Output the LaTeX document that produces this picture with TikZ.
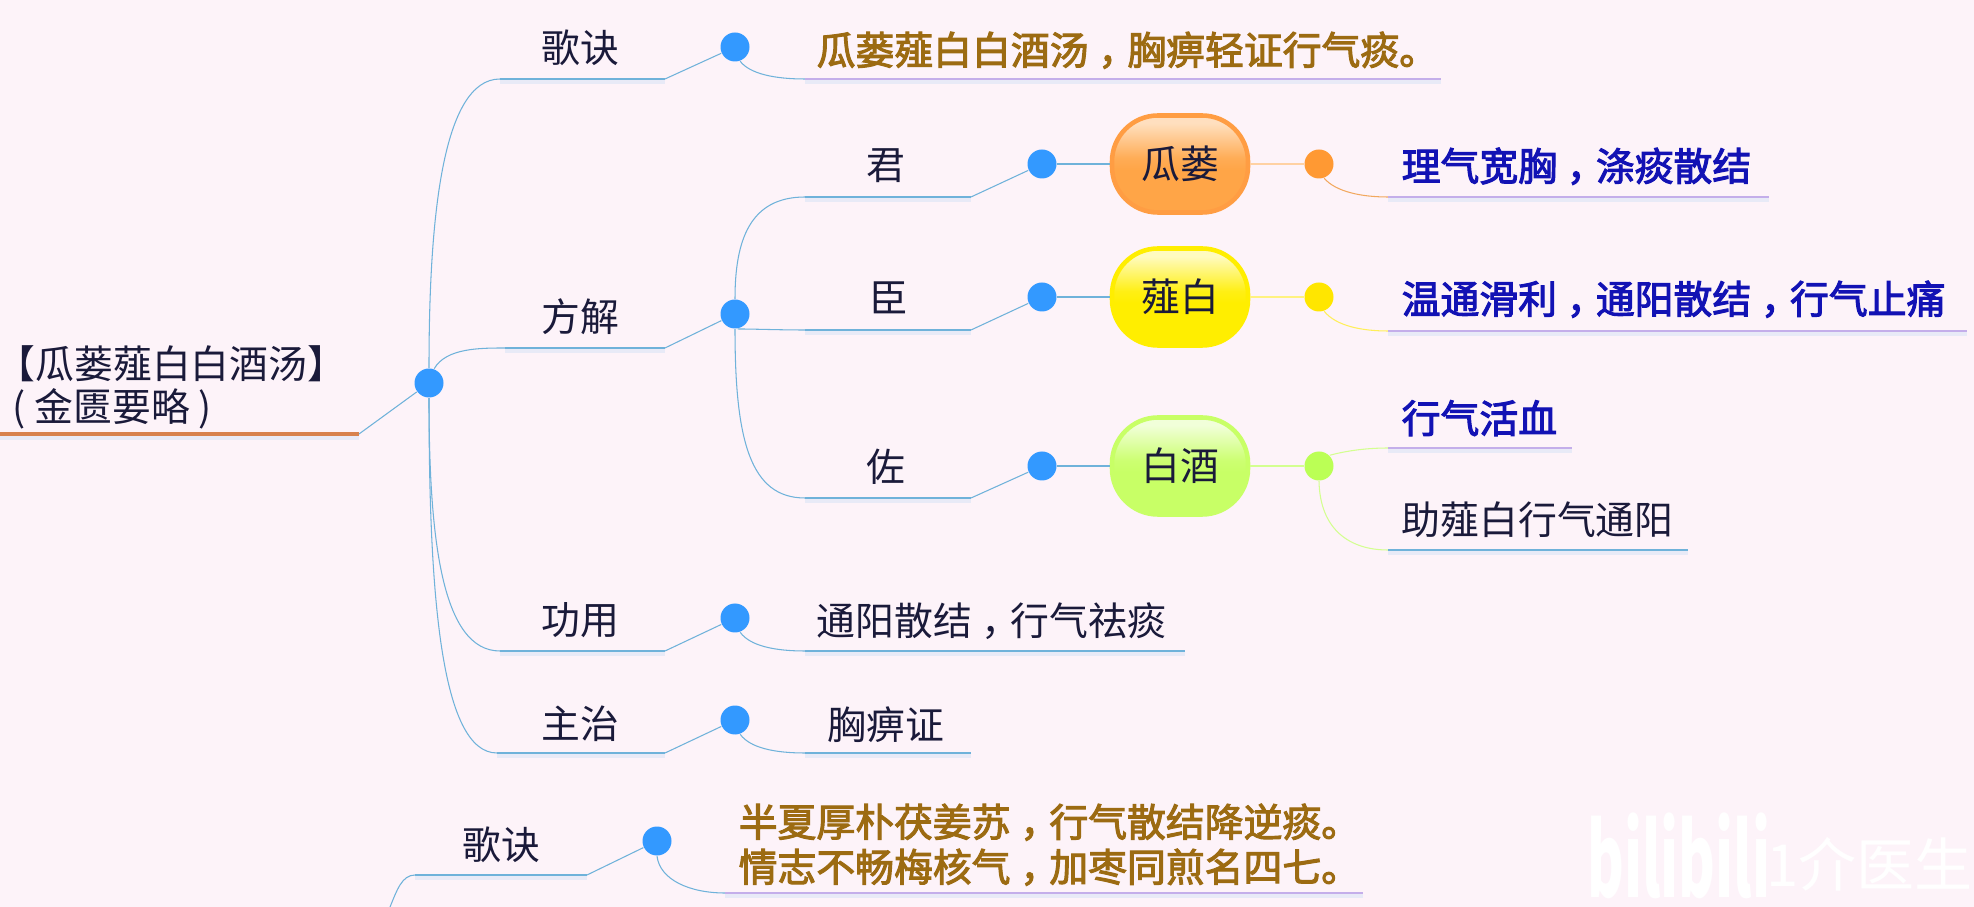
\documentclass[tikz,border=0pt]{standalone}
\usepackage{fontspec}
\setmainfont{Noto Sans CJK SC}
\newfontfamily\cjkbold[FakeBold=2.6]{Noto Sans CJK SC}
\usetikzlibrary{positioning}
\definecolor{bgpink}{HTML}{FDF3F9}
\definecolor{inkdark}{HTML}{1A1A3A}
\definecolor{inkbrown}{HTML}{9C6B12}
\definecolor{inkblue}{HTML}{1212B4}
\definecolor{dotblue}{HTML}{3399FF}
\definecolor{dotorange}{HTML}{FF9933}
\definecolor{dotyellow}{HTML}{FFE600}
\definecolor{dotlime}{HTML}{BBFF55}
\definecolor{fillorange}{HTML}{FFA547}
\definecolor{fillyellow}{HTML}{FFEE00}
\definecolor{filllime}{HTML}{C8FF66}
\definecolor{linkblue}{HTML}{6FB2DA}
\definecolor{linkpurple}{HTML}{C4AEEA}
\definecolor{linktitle}{HTML}{D8824E}
\definecolor{bandgrey}{HTML}{E8EAF7}
\pgfdeclareverticalshading{boxorange}{100bp}{color(0bp)=(fillorange); color(47bp)=(fillorange); color(53bp)=(fillorange!92!white); color(71bp)=(fillorange!35!white); color(100bp)=(fillorange!35!white)}
\pgfdeclareverticalshading{boxyellow}{100bp}{color(0bp)=(fillyellow); color(47bp)=(fillyellow); color(53bp)=(fillyellow!92!white); color(71bp)=(fillyellow!25!white); color(100bp)=(fillyellow!25!white)}
\pgfdeclareverticalshading{boxlime}{100bp}{color(0bp)=(filllime); color(47bp)=(filllime); color(53bp)=(filllime!92!white); color(71bp)=(filllime!25!white); color(100bp)=(filllime!25!white)}
\newcommand{\dou}{\hspace{.25em}，\hspace{-.25em}}
\tikzset{
  txt/.style={font=\fontsize{11.05}{11.05}\selectfont, text=inkdark, inner sep=0pt, yshift=-0.35pt},
  txtbold/.style={font=\fontsize{11.05}{11.05}\selectfont\cjkbold, inner sep=0pt, yshift=-0.35pt},
  dot/.style={circle, fill=#1, inner sep=0pt, minimum size=0.29cm},
  herb/.style={txt, yshift=0.35pt, rounded corners=0.46cm, minimum width=1.36cm, minimum height=0.97cm, line width=1.3pt},
  link/.style={line width=0.3pt, draw=#1},
  stem/.style={link=#1, preaction={draw=bandgrey, line width=1pt, transform canvas={yshift=-0.9pt}}},
}
\begin{document}
\begin{tikzpicture}[x=1cm, y=-1cm]
\useasboundingbox (0,0) rectangle (19.74,9.07);
\fill[bgpink] (0,0) rectangle (19.74,9.07);

% Marca de agua
\node[font=\fontsize{29}{29}\selectfont\bfseries, text=white, inner sep=0pt, anchor=base west, xscale=0.55] (markLogo) at (15.87,8.97) {bilibili};
\node[font=\fontsize{16.5}{17}\selectfont, text=white, inner sep=0pt, anchor=base east] (markName) at (19.73,8.86) {1介医生};

% Raiz
\node[txt, align=left, anchor=west] (title) at (-0.04,3.86) {【瓜蒌薤白白酒汤】\\[1.2pt]\hspace*{0.16cm}( 金匮要略 )};
\node[dot=dotblue] (root) at (4.29,3.83) {};
\coordinate (titleL) at (0,4.34);
\coordinate (titleR) at (3.59,4.34);
\draw[line width=1.1pt, draw=linktitle, preaction={draw=bandgrey, line width=1pt, transform canvas={yshift=-1.1pt}}] (titleL) -- (titleR);
\draw[link=linkblue] (titleR) -- (root);

% Dots nivel 1
\node[dot=dotblue] (geDot) at (7.35,0.47) {};
\node[dot=dotblue] (fangDot) at (7.35,3.14) {};
\node[dot=dotblue] (gongDot) at (7.35,6.18) {};
\node[dot=dotblue] (zhuDot) at (7.35,7.20) {};

% Etiquetas nivel 1
\node[txt] (geLabel) at (5.80,0.47) {歌诀};
\node[txt] (fangLabel) at (5.80,3.15) {方解};
\node[txt] (gongLabel) at (5.80,6.19) {功用};
\node[txt] (zhuLabel) at (5.80,7.23) {主治};

% Ramas nivel 1
\coordinate (geA) at (5.00,0.79);
\coordinate (geB) at (6.65,0.79);
\coordinate (fangA) at (5.05,3.48);
\coordinate (fangB) at (6.65,3.48);
\coordinate (gongA) at (5.00,6.51);
\coordinate (gongB) at (6.65,6.51);
\coordinate (zhuA) at (4.97,7.53);
\coordinate (zhuB) at (6.65,7.53);
\draw[link=linkblue] (root.north) .. controls (4.29,2.2) and (4.42,0.79) .. (geA);
\draw[link=linkblue] (root.70) .. controls (4.46,3.48) and (4.8,3.48) .. (fangA);
\draw[link=linkblue] (root.south) .. controls (4.29,5.4) and (4.42,6.51) .. (gongA);
\draw[link=linkblue] (root.south) .. controls (4.29,5.9) and (4.40,7.53) .. (zhuA);
\draw[stem=linkblue] (geA) -- (geB);
\draw[stem=linkblue] (fangA) -- (fangB);
\draw[stem=linkblue] (gongA) -- (gongB);
\draw[stem=linkblue] (zhuA) -- (zhuB);
\draw[link=linkblue] (geB) -- (geDot);
\draw[link=linkblue] (fangB) -- (fangDot);
\draw[link=linkblue] (gongB) -- (gongDot);
\draw[link=linkblue] (zhuB) -- (zhuDot);

% Cancion
\coordinate (geC) at (8.05,0.79);
\coordinate (geD) at (14.41,0.79);
\draw[link=linkblue] (geDot.-70) .. controls (7.50,0.74) and (7.75,0.79) .. (geC);
\draw[stem=linkpurple] (geC) -- (geD);
\node[txtbold, text=inkbrown, anchor=west] (geText) at (8.16,0.49) {瓜蒌薤白白酒汤\dou 胸痹轻证行气痰。};

% Jun, Chen, Zuo
\node[txt] (junLabel) at (8.86,1.64) {君};
\node[txt] (chenLabel) at (8.89,2.97) {臣};
\node[txt] (zuoLabel) at (8.86,4.66) {佐};
\node[dot=dotblue] (junDot) at (10.42,1.64) {};
\node[dot=dotblue] (chenDot) at (10.42,2.97) {};
\node[dot=dotblue] (zuoDot) at (10.42,4.66) {};
\coordinate (junA) at (8.05,1.97);
\coordinate (junB) at (9.71,1.97);
\coordinate (chenA) at (8.05,3.30);
\coordinate (chenB) at (9.71,3.30);
\coordinate (zuoA) at (8.05,4.98);
\coordinate (zuoB) at (9.71,4.98);
\draw[link=linkblue] (fangDot.north) .. controls (7.35,2.4) and (7.5,1.97) .. (junA);
\draw[link=linkblue] (fangDot.-80) .. controls (7.55,3.29) and (7.8,3.30) .. (chenA);
\draw[link=linkblue] (fangDot.south) .. controls (7.35,4.4) and (7.5,4.98) .. (zuoA);
\draw[stem=linkblue] (junA) -- (junB);
\draw[stem=linkblue] (chenA) -- (chenB);
\draw[stem=linkblue] (zuoA) -- (zuoB);
\draw[link=linkblue] (junB) -- (junDot);
\draw[link=linkblue] (chenB) -- (chenDot);
\draw[link=linkblue] (zuoB) -- (zuoDot);

% Cajas
\node[herb, draw=fillorange!95!red, shading=boxorange] (gualou) at (11.80,1.64) {瓜蒌};
\node[herb, draw=fillyellow, shading=boxyellow] (xiebai) at (11.80,2.97) {薤白};
\node[herb, draw=filllime, shading=boxlime] (baijiu) at (11.80,4.66) {白酒};
\draw[link=linkblue] (junDot) -- (gualou);
\draw[link=linkblue] (chenDot) -- (xiebai);
\draw[link=linkblue] (zuoDot) -- (baijiu);

% Hojas derechas
\node[dot=dotorange] (gualouDot) at (13.19,1.64) {};
\node[dot=dotyellow] (xiebaiDot) at (13.19,2.97) {};
\node[dot=dotlime] (baijiuDot) at (13.19,4.66) {};
\draw[link=dotorange!45!white] (gualou) -- (gualouDot);
\draw[link=dotyellow!50!white] (xiebai) -- (xiebaiDot);
\draw[link=dotlime!65!white] (baijiu) -- (baijiuDot);
\coordinate (gualouA) at (13.88,1.97);
\coordinate (gualouB) at (17.69,1.97);
\coordinate (xiebaiA) at (13.88,3.31);
\coordinate (xiebaiB) at (19.67,3.31);
\coordinate (baijiuA) at (13.88,4.48);
\coordinate (baijiuB) at (15.72,4.48);
\coordinate (baijiuC) at (13.88,5.50);
\coordinate (baijiuD) at (16.88,5.50);
\draw[link=dotorange!75!brown!80!white] (gualouDot.-70) .. controls (13.36,1.92) and (13.62,1.97) .. (gualouA);
\draw[link=dotyellow!65!white] (xiebaiDot.-70) .. controls (13.36,3.26) and (13.62,3.31) .. (xiebaiA);
\draw[link=dotlime!65!white] (baijiuDot.north east) .. controls (13.42,4.52) and (13.62,4.48) .. (baijiuA);
\draw[link=dotlime!65!white] (baijiuDot.south) .. controls (13.2,5.3) and (13.5,5.50) .. (baijiuC);
\draw[stem=linkpurple] (gualouA) -- (gualouB);
\draw[stem=linkpurple] (xiebaiA) -- (xiebaiB);
\draw[stem=linkpurple] (baijiuA) -- (baijiuB);
\draw[stem=linkblue] (baijiuC) -- (baijiuD);
\node[txtbold, text=inkblue, anchor=west] (gualouText) at (14.01,1.65) {理气宽胸\dou 涤痰散结};
\node[txtbold, text=inkblue, anchor=west] (xiebaiText) at (14.01,2.98) {温通滑利\dou 通阳散结\dou 行气止痛};
\node[txtbold, text=inkblue, anchor=west] (baijiuText) at (14.01,4.17) {行气活血};
\node[txt, anchor=west] (baijiuNote) at (14.01,5.18) {助薤白行气通阳};

% Gongyong, Zhuzhi
\coordinate (gongC) at (8.05,6.51);
\coordinate (gongD) at (11.85,6.51);
\coordinate (zhuC) at (8.05,7.53);
\coordinate (zhuD) at (9.71,7.53);
\draw[link=linkblue] (gongDot.-70) .. controls (7.50,6.46) and (7.75,6.51) .. (gongC);
\draw[link=linkblue] (zhuDot.-70) .. controls (7.50,7.48) and (7.75,7.53) .. (zhuC);
\draw[stem=linkblue] (gongC) -- (gongD);
\draw[stem=linkblue] (zhuC) -- (zhuD);
\node[txt, anchor=west] (gongText) at (8.16,6.20) {通阳散结\dou 行气祛痰};
\node[txt] (zhuText) at (8.86,7.23) {胸痹证};

% Rama inferior
\coordinate (nextA) at (3.90,9.07);
\coordinate (nextB) at (4.15,8.75);
\coordinate (nextC) at (5.87,8.75);
\coordinate (nextD) at (7.25,8.93);
\coordinate (nextE) at (13.63,8.93);
\node[dot=dotblue] (nextDot) at (6.57,8.41) {};
\node[txt] (nextLabel) at (5.01,8.44) {歌诀};
\draw[link=linkblue] (nextA) .. controls (3.97,8.90) and (4.02,8.75) .. (nextB);
\draw[stem=linkblue] (nextB) -- (nextC);
\draw[link=linkblue] (nextC) -- (nextDot);
\draw[link=linkblue] (nextDot.south) .. controls (6.6,8.80) and (6.9,8.93) .. (nextD);
\draw[stem=linkpurple] (nextD) -- (nextE);
\node[txtbold, text=inkbrown, anchor=west] (nextText) at (7.38,8.21) {半夏厚朴茯姜苏\dou 行气散结降逆痰。};
\node[txtbold, text=inkbrown, anchor=west] (nextTextB) at (7.38,8.66) {情志不畅梅核气\dou 加枣同煎名四七。};

\end{tikzpicture}
\end{document}
